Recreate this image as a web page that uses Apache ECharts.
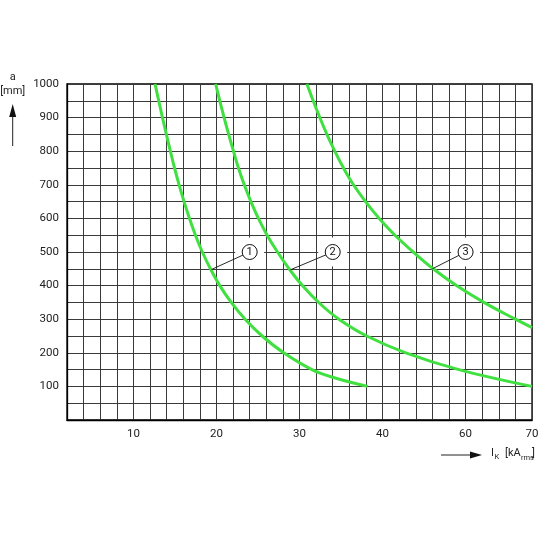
<!DOCTYPE html>
<html>
<head>
<meta charset="utf-8">
<script src="https://cdn.jsdelivr.net/npm/echarts/dist/echarts.min.js"></script>
<style>
  html, body { margin: 0; padding: 0; background: #fff; }
  #chart { width: 540px; height: 540px; }
</style>
</head>
<body>
<div id="chart"></div>
<script>
// x is in grid units (one grid column = 2); the printed tick labels are not linear past 40
var xTickPos = [10, 20, 30, 40, 50, 58];
var xTickText = ['10', '20', '30', '40', '60', '70'];
var yTickLabels = [100, 200, 300, 400, 500, 600, 700, 800, 900, 1000];

// distance a [mm] read at each grid row
var curve1X = [12.6, 13.05, 13.5, 13.97, 14.45, 14.95, 15.5, 16.1, 16.75, 17.47, 18.3, 19.27, 20.4, 21.78, 23.45, 25.5, 28.1, 31.5, 34.3, 38.2];
var curve1Y = [1000, 950, 900, 850, 800, 750, 700, 650, 600, 550, 500, 450, 400, 350, 300, 250, 200, 150, 125, 100];

var curve2X = [19.9, 20.4, 20.92, 21.47, 22.05, 22.65, 23.35, 24.15, 25.05, 26.1, 27.35, 28.75, 30.35, 32.3, 34.75, 38.1, 42.8, 49.2, 58];
var curve2Y = [1000, 950, 900, 850, 800, 750, 700, 650, 600, 550, 500, 450, 400, 350, 300, 250, 200, 150, 100];

var curve3X = [30.9, 31.65, 32.45, 33.3, 34.25, 35.3, 36.5, 37.95, 39.6, 41.5, 43.7, 46.1, 48.9, 52.2, 56.0, 58];
var curve3Y = [1000, 950, 900, 850, 800, 750, 700, 650, 600, 550, 500, 450, 400, 350, 300, 275];

// numbered callouts: circle position and the point on the curve it points to
var calloutText = ['1', '2', '3'];
var calloutX = [24, 34, 50];
var calloutY = [500, 500, 500];
var targetX = [19.4, 28.9, 46.0];
var targetY = [448, 447, 450];

var FONT = "Roboto, 'Liberation Sans', sans-serif";
var GREEN = '#3fe03f';
var INK = '#222';

function zip(xs, ys) {
  return xs.map(function (x, i) { return [x, ys[i]]; });
}

var chart = echarts.init(document.getElementById('chart'), null, { renderer: 'canvas' });

var series = [];
[[curve1X, curve1Y], [curve2X, curve2Y], [curve3X, curve3Y]].forEach(function (c) {
  series.push({
    type: 'line',
    data: zip(c[0], c[1]),
    smooth: 0.4,
    showSymbol: false,
    silent: true,
    z: 2,
    lineStyle: { color: GREEN, width: 3 }
  });
});

// white gap in the grid behind each callout
series.push({
  type: 'scatter',
  data: zip(calloutX, calloutY),
  symbol: 'circle',
  symbolSize: 29,
  silent: true,
  z: 3,
  itemStyle: { color: '#fff', opacity: 1 }
});

calloutX.forEach(function (x, i) {
  series.push({
    type: 'line',
    data: [[x, calloutY[i]], [targetX[i], targetY[i]]],
    showSymbol: false,
    silent: true,
    z: 4,
    lineStyle: { color: '#111', width: 0.9 }
  });
});

series.push({
  type: 'scatter',
  data: zip(calloutX, calloutY),
  symbol: 'circle',
  symbolSize: 15,
  silent: true,
  z: 5,
  itemStyle: { color: '#fff', borderColor: '#111', borderWidth: 1, opacity: 1 },
  label: {
    show: true,
    position: 'inside',
    formatter: function (p) { return calloutText[p.dataIndex]; },
    color: '#111',
    fontFamily: FONT,
    fontSize: 11
  }
});

var option = {
  animation: false,
  backgroundColor: '#fff',
  grid: {
    left: 67, right: 8, top: 84, bottom: 120,
    show: true, borderColor: '#000', borderWidth: 1.3,
    outerBoundsMode: 'none'
  },
  xAxis: {
    type: 'value',
    min: 2, max: 58, interval: 2,
    axisLine: { show: true, lineStyle: { color: '#000', width: 1.3 } },
    axisTick: { show: false },
    splitLine: { show: true, lineStyle: { color: '#3a3a3a', width: 1 } },
    axisLabel: {
      show: true, showMinLabel: true, showMaxLabel: true,
      margin: 8, color: INK, fontFamily: FONT, fontSize: 11.5,
      formatter: function (v) {
        var i = xTickPos.indexOf(v);
        return i < 0 ? '' : xTickText[i];
      }
    }
  },
  yAxis: {
    type: 'value',
    min: 0, max: 1000, interval: 50,
    axisLine: { show: true, lineStyle: { color: '#000', width: 1.3 } },
    axisTick: { show: false },
    splitLine: { show: true, lineStyle: { color: '#3a3a3a', width: 1 } },
    axisLabel: {
      show: true, margin: 8, color: INK, fontFamily: FONT, fontSize: 11.5,
      formatter: function (v) {
        return yTickLabels.indexOf(v) < 0 ? '' : String(v);
      }
    }
  },
  graphic: [
    // y axis name and arrow
    { type: 'text', style: { x: 12.7, y: 77, text: 'a', align: 'center', verticalAlign: 'middle', fill: INK, font: '11px ' + FONT } },
    { type: 'text', style: { x: 12.7, y: 91, text: '[mm]', align: 'center', verticalAlign: 'middle', fill: INK, font: '11px ' + FONT } },
    { type: 'line', shape: { x1: 12.7, y1: 146, x2: 12.7, y2: 114 }, style: { stroke: INK, lineWidth: 1 } },
    { type: 'polygon', shape: { points: [[12.7, 104], [9.2, 117], [16.2, 117]] }, style: { fill: '#111' } },
    // x axis name and arrow
    { type: 'line', shape: { x1: 441, y1: 455, x2: 474, y2: 455 }, style: { stroke: INK, lineWidth: 1 } },
    { type: 'polygon', shape: { points: [[482, 455], [470, 451.5], [470, 458.5]] }, style: { fill: '#111' } },
    { type: 'text', style: { x: 491, y: 453, text: 'I', verticalAlign: 'middle', fill: INK, font: '11px ' + FONT } },
    { type: 'text', style: { x: 494.5, y: 457, text: 'K', verticalAlign: 'middle', fill: INK, font: '7.5px ' + FONT } },
    { type: 'text', style: { x: 505, y: 453, text: '[kA', verticalAlign: 'middle', fill: INK, font: '11px ' + FONT } },
    { type: 'text', style: { x: 521, y: 458, text: 'rms', verticalAlign: 'middle', fill: INK, font: '7.5px ' + FONT } },
    { type: 'text', style: { x: 532, y: 453, text: ']', verticalAlign: 'middle', fill: INK, font: '11px ' + FONT } }
  ],
  series: series
};

chart.setOption(option);
</script>
</body>
</html>
